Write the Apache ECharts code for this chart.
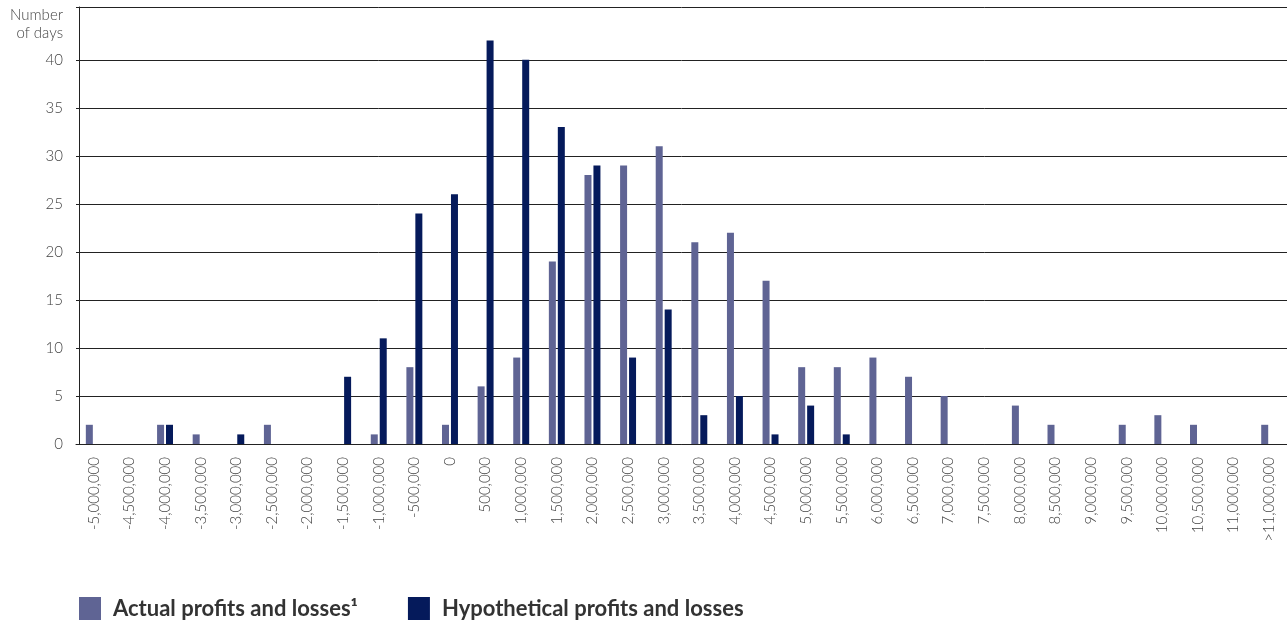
<!DOCTYPE html>
<html>
<head>
<meta charset="utf-8">
<script src="https://cdn.jsdelivr.net/npm/echarts@6/dist/echarts.min.js"></script>
<style>
html,body{margin:0;padding:0;background:#fff;}
#chart{width:1287px;height:628px;}
</style>
</head>
<body>
<div id="chart"></div>
<script>
const categories = ['-5,000,000','-4,500,000','-4,000,000','-3,500,000','-3,000,000','-2,500,000','-2,000,000','-1,500,000','-1,000,000','-500,000','0','500,000','1,000,000','1,500,000','2,000,000','2,500,000','3,000,000','3,500,000','4,000,000','4,500,000','5,000,000','5,500,000','6,000,000','6,500,000','7,000,000','7,500,000','8,000,000','8,500,000','9,000,000','9,500,000','10,000,000','10,500,000','11,000,000','>11,000,000'];
const actualPL = [2,0,2,1,0,2,0,0,1,8,2,6,9,19,28,29,31,21,22,17,8,8,9,7,5,0,4,2,0,2,3,2,0,2];
const hypotheticalPL = [0,0,2,0,1,0,0,7,11,24,26,42,40,33,29,9,14,3,5,1,4,1,0,0,0,0,0,0,0,0,0,0,0,0];
const yTicks = [0,5,10,15,20,25,30,35,40];
const seriesNames = ['Actual profits and losses\u00B9','Hypothetical profits and losses'];

const chart = echarts.init(document.getElementById('chart'), null, {renderer:'canvas'});
const FONT = 'Lato, "Open Sans", sans-serif';
const splitColors = yTicks.map(() => '#222').concat(['rgba(0,0,0,0)', '#222']);
chart.setOption({
  animation: false,
  backgroundColor: '#fff',
  graphic: [{
    type: 'text', x: 63, y: 6,
    style: {text: 'Number\nof days', align: 'right', fill: '#444', font: '300 15px ' + FONT, lineHeight: 18}
  }],
  legend: {
    left: 79, top: 597, padding: 0, itemWidth: 22, itemHeight: 23, itemGap: 50,
    icon: 'rect',
    textStyle: {fontFamily: FONT, fontSize: 22, fontWeight: 'bold', color: '#333', padding: [0,0,0,7]},
    data: seriesNames
  },
  grid: {left: 76, right: -2, top: 7, bottom: 184, containLabel: false},
  xAxis: {
    type: 'category', data: categories,
    axisLine: {show: true, lineStyle: {color: '#222', width: 1}},
    axisTick: {show: false},
    axisLabel: {interval: 0, rotate: 90, margin: 13, color: '#444', fontFamily: FONT, fontWeight: 300, fontSize: 15}
  },
  yAxis: {
    type: 'value', min: 0, max: 45.5, interval: 5, offset: -3,
    axisLine: {show: true, lineStyle: {color: '#222', width: 1}},
    axisTick: {show: false},
    axisLabel: {margin: 16, color: '#444', fontFamily: FONT, fontWeight: 300, fontSize: 15,
      formatter: v => (v <= 40 && yTicks.indexOf(v) >= 0) ? String(v) : ''},
    splitLine: {show: true, showMinLine: true, showMaxLine: true, lineStyle: {color: splitColors, width: 1}}
  },
  series: [
    {name: seriesNames[0], type: 'bar', data: actualPL, barWidth: 7, barGap: '28%', itemStyle: {color: '#5f6494'}},
    {name: seriesNames[1], type: 'bar', data: hypotheticalPL, barWidth: 7, itemStyle: {color: '#051a5b'}}
  ]
});
</script>
</body>
</html>
